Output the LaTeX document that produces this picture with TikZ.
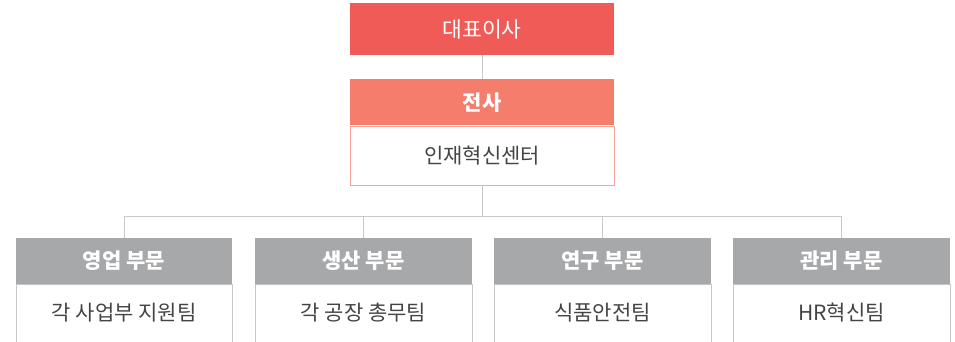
\documentclass[tikz,border=0pt]{standalone}
\usepackage{fontspec}
\setmainfont{Noto Sans CJK KR}
\usepackage{tikz}
\usetikzlibrary{positioning}
\usepackage{xcolor}
\definecolor{ceored}{HTML}{F15B57}
\definecolor{hqsalmon}{HTML}{F47D6C}
\definecolor{hqline}{HTML}{F7A396}
\definecolor{divgray}{HTML}{A7A8AA}
\definecolor{teamline}{HTML}{C6C6C6}
\definecolor{linkgray}{HTML}{C8C8C8}
\definecolor{textdark}{HTML}{444444}

\begin{document}
\begin{tikzpicture}[x=1pt,y=-1pt,
    head/.style={rectangle,inner sep=0pt,text=white,minimum height=46pt,
      font=\fontsize{21}{24}\selectfont\bfseries},
    team/.style={rectangle,inner sep=0pt,text=textdark,anchor=north,
      font=\fontsize{21}{24}\selectfont},
    link/.style={linkgray,line width=0.8pt}]
    \useasboundingbox (0,0) rectangle (955,342);

    % CEO
    \node[rectangle,inner sep=0pt,fill=ceored,text=white,minimum width=264pt,
      minimum height=52pt,font=\fontsize{21.5}{24}\selectfont] (ceo) at (482,29) {대표이사};

    % company-wide unit
    \node[head,fill=hqsalmon,minimum width=264pt,below=24pt of ceo] (hq) {전사};
    \node[team,draw=hqline,line width=0.8pt,minimum width=264pt,minimum height=59pt,
      below=0pt of hq] (hqteam) {인재혁신센터};

    % divisions
    \node[head,fill=divgray,minimum width=216pt] (sales) at (124,261) {영업 부문};
    \node[head,fill=divgray,minimum width=217pt] (prod) at (363.5,261) {생산 부문};
    \node[head,fill=divgray,minimum width=217pt] (lab) at (602.5,261) {연구 부문};
    \node[head,fill=divgray,minimum width=217pt] (admin) at (841.5,261) {관리 부문};

    % teams (open at the bottom edge)
    \node[team,draw=teamline,line width=0.8pt,minimum width=216pt,minimum height=66pt,
      below=0pt of sales] (salesteam) {};
    \node[textdark,font=\fontsize{21}{24}\selectfont] at (124,313) {각 사업부 지원팀};
    \node[team,draw=teamline,line width=0.8pt,minimum width=217pt,minimum height=66pt,
      below=0pt of prod] (prodteam) {};
    \node[textdark,font=\fontsize{21}{24}\selectfont] at (363.5,313) {각 공장 총무팀};
    \node[team,draw=teamline,line width=0.8pt,minimum width=217pt,minimum height=66pt,
      below=0pt of lab] (labteam) {};
    \node[textdark,font=\fontsize{21}{24}\selectfont] at (602.5,313) {식품안전팀};
    \node[team,draw=teamline,line width=0.8pt,minimum width=217pt,minimum height=66pt,
      below=0pt of admin] (adminteam) {};
    \node[textdark,font=\fontsize{21}{24}\selectfont] at (841.5,313) {HR혁신팀};

    % connectors
    \coordinate (bus) at (482,216);
    \draw[link] (ceo) -- (hq);
    \draw[link] (hqteam) -- (bus);
    \draw[link] (sales.north) -- (sales.north |- bus) -- (admin.north |- bus) -- (admin.north);
    \draw[link] (prod.north) -- (prod.north |- bus);
    \draw[link] (lab.north) -- (lab.north |- bus);
\end{tikzpicture}
\end{document}
